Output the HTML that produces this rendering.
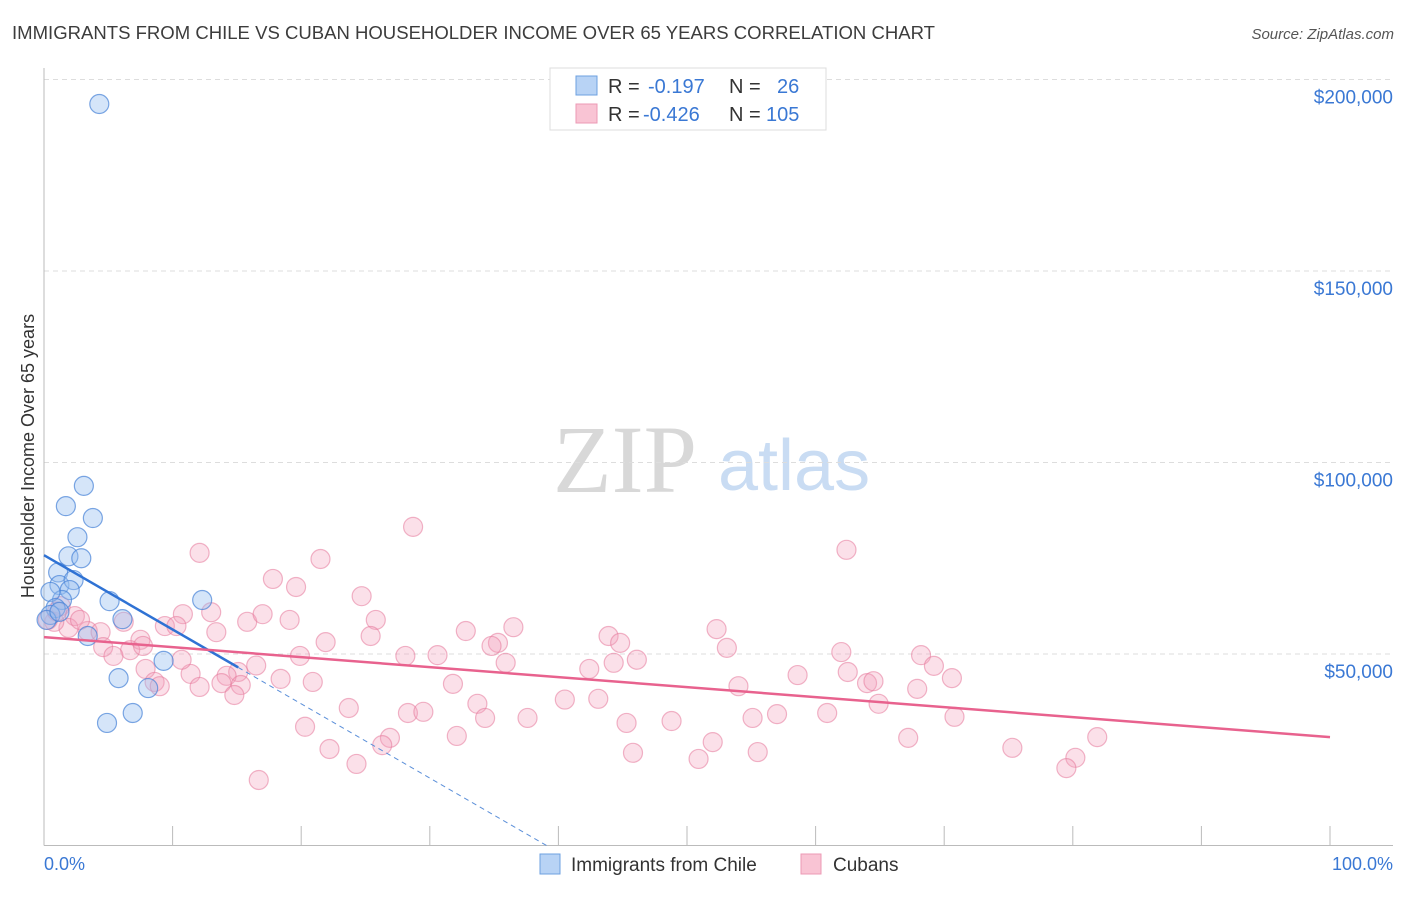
<!DOCTYPE html>
<html><head><meta charset="utf-8"><style>
body{margin:0;width:1406px;height:892px;background:#fff;font-family:"Liberation Sans",sans-serif;overflow:hidden}
svg text{font-family:"Liberation Sans",sans-serif}
</style></head><body>
<svg id="chart" width="1406" height="892" xmlns="http://www.w3.org/2000/svg">
<text x="12" y="39" font-size="18" fill="#3c3c3c" textLength="923" lengthAdjust="spacingAndGlyphs">IMMIGRANTS FROM CHILE VS CUBAN HOUSEHOLDER INCOME OVER 65 YEARS CORRELATION CHART</text>
<text x="1394" y="39" font-size="15" fill="#555" text-anchor="end" font-style="italic">Source: ZipAtlas.com</text>
<text x="553" y="492" font-size="96" fill="#d8d8d8" font-family="Liberation Serif" style="font-family:'Liberation Serif',serif">ZIP</text>
<text x="718" y="490" font-size="72" fill="#c9dcf3">atlas</text>
<text transform="translate(34,456) rotate(-90)" font-size="18" fill="#333" text-anchor="middle">Householder Income Over 65 years</text>
<g id="grid"></g><g id="axes"></g><g id="pts"></g><g id="trends"></g>
<g>
<rect x="550" y="68" width="276" height="62" fill="#fff" stroke="#ddd"/>
<rect x="576" y="76" width="21" height="19" fill="#b8d3f5" stroke="#6ea0e0"/>
<rect x="576" y="104" width="21" height="19" fill="#f9c4d4" stroke="#ec9ab5"/>
<text x="608" y="93" font-size="20" fill="#333">R =</text><text x="648" y="93" font-size="20" fill="#3a78d4">-0.197</text>
<text x="729" y="93" font-size="20" fill="#333">N =</text><text x="777" y="93" font-size="20" fill="#3a78d4">26</text>
<text x="608" y="121" font-size="20" fill="#333">R =</text><text x="643" y="121" font-size="20" fill="#3a78d4">-0.426</text>
<text x="729" y="121" font-size="20" fill="#333">N =</text><text x="766" y="121" font-size="20" fill="#3a78d4">105</text>
</g>
<g>
<rect x="540" y="854" width="20" height="20" fill="#b8d3f5" stroke="#6ea0e0"/>
<text x="571" y="871" font-size="19" fill="#333">Immigrants from Chile</text>
<rect x="801" y="854" width="20" height="20" fill="#f9c4d4" stroke="#ec9ab5"/>
<text x="833" y="871" font-size="19" fill="#333">Cubans</text>
</g>
<text x="44" y="870" font-size="18" fill="#3a78d4">0.0%</text>
<text x="1393" y="870" font-size="18" fill="#3a78d4" text-anchor="end">100.0%</text>
</svg>
<script>
const yTicks=[50000,100000,150000,200000];
const yTickLabels=["$50,000","$100,000","$150,000","$200,000"];
const xTicks=[10,20,30,40,50,60,70,80,90,100];
const chileX=[4.3,3.1,1.7,3.8,2.6,1.9,2.9,1.1,1.2,2.3,2.0,1.4,5.1,0.5,12.3,6.1,0.9,0.5,0.2,3.4,9.3,5.8,8.1,6.9,4.9,1.2];
const chileY=[193.6,93.9,88.6,85.5,80.5,75.5,75.0,71.3,68.0,69.3,66.7,64.1,63.8,66.2,64.1,59.1,62.0,60.2,58.9,54.7,48.2,43.7,41.1,34.6,32.0,61.0];
const cubaX=[28.7,62.4,12.1,21.5,17.8,19.6,24.7,1.3,10.8,13.0,25.8,19.1,15.8,2.4,3.4,4.4,1.9,0.8,9.4,10.3,13.4,25.4,32.8,36.5,43.9,52.3,21.9,35.3,34.8,44.8,7.5,4.6,6.7,5.4,19.9,28.1,30.6,35.9,44.3,46.1,53.1,62.0,68.2,42.4,69.2,62.5,16.5,15.1,7.9,11.4,14.2,18.4,20.9,31.8,8.6,9.0,12.1,13.8,15.3,14.8,58.6,64.0,64.5,67.9,70.6,54.0,33.7,40.5,43.1,64.9,23.7,28.3,29.5,34.3,37.6,45.3,48.8,55.1,57.0,60.9,70.8,20.3,32.1,26.9,26.3,67.2,52.0,81.9,22.2,45.8,55.5,75.3,24.3,50.9,80.2,79.5,16.7,0.3,2.8,6.2,1.0,10.7,17.0,7.7];
const cubaY=[83.2,77.2,76.4,74.8,69.6,67.5,65.1,62.5,60.4,60.9,58.9,58.9,58.4,59.9,56.0,55.7,56.8,58.4,57.3,57.3,55.7,54.7,56.0,57.0,54.7,56.5,53.1,52.9,52.1,52.9,53.7,51.8,51.0,49.5,49.5,49.5,49.7,47.7,47.7,48.5,51.6,50.5,49.7,46.1,46.9,45.3,47.0,45.3,46.1,44.8,44.3,43.5,42.7,42.2,42.7,41.6,41.4,42.4,41.9,39.3,44.5,42.4,42.9,40.9,43.7,41.6,37.0,38.1,38.3,37.0,35.9,34.6,34.9,33.3,33.3,32.0,32.5,33.3,34.3,34.6,33.6,31.0,28.6,28.1,26.2,28.1,27.0,28.3,25.2,24.2,24.4,25.5,21.3,22.6,22.9,20.2,17.1,58.9,58.9,58.4,61.1,48.5,60.4,52.1];
const chileTrend=[75.8,-1.94];
const cubaTrend=[54.4,-0.261];
const NS="http://www.w3.org/2000/svg";
const X=p=>44+p*12.86;
const Y=v=>845.5-v/50000*191.5;
const YK=k=>Y(k*1000);
function mk(tag,attrs,parent){const e=document.createElementNS(NS,tag);for(const k in attrs)e.setAttribute(k,attrs[k]);parent.appendChild(e);return e;}
const grid=document.getElementById('grid'),axes=document.getElementById('axes'),pts=document.getElementById('pts'),tr=document.getElementById('trends');
yTicks.forEach((t,i)=>{
 const l=mk('line',{x1:44,x2:1393,y1:Y(t),y2:Y(t),stroke:'#ddd','stroke-dasharray':'5,4'},grid);
 
 
 const tx=mk('text',{x:1393,y:Y(t)+24,'font-size':19,fill:'#3a78d4','text-anchor':'end'},grid);
 tx.textContent=yTickLabels[i];
 
 
});
const ax=mk('line',{x1:44,x2:1393,y1:845.5,y2:845.5,stroke:'#bbb'},axes);


const ay=mk('line',{x1:44,x2:44,y1:68,y2:845.5,stroke:'#bbb'},axes);


xTicks.forEach(t=>{
 const l=mk('line',{x1:X(t),x2:X(t),y1:826,y2:845.5,stroke:'#bbb'},axes);
 
 
});
cubaX.forEach((x,i)=>{
 const c=mk('circle',{cx:X(x),cy:YK(cubaY[i]),r:9.5,fill:'rgba(244,160,188,0.32)',stroke:'rgba(230,120,155,0.55)','stroke-width':1.2},pts);
 
 
});
chileX.forEach((x,i)=>{
 const c=mk('circle',{cx:X(x),cy:YK(chileY[i]),r:9.5,fill:'rgba(150,190,240,0.4)',stroke:'rgba(70,130,215,0.7)','stroke-width':1.2},pts);
 
 
});
const cEnd=15.1,cZero=-chileTrend[0]/chileTrend[1];
const t1=mk('line',{x1:X(0),y1:YK(chileTrend[0]),x2:X(cEnd),y2:YK(chileTrend[0]+chileTrend[1]*cEnd),stroke:'#2f72d4','stroke-width':2.5},tr);


const t2=mk('line',{x1:X(cEnd),y1:YK(chileTrend[0]+chileTrend[1]*cEnd),x2:X(cZero),y2:YK(0),stroke:'#5b8fd9','stroke-width':1,'stroke-dasharray':'5,4'},tr);


const t3=mk('line',{x1:X(0),y1:YK(cubaTrend[0]),x2:X(100),y2:YK(cubaTrend[0]+cubaTrend[1]*100),stroke:'#e8628e','stroke-width':2.5},tr);


</script>
</body></html>
